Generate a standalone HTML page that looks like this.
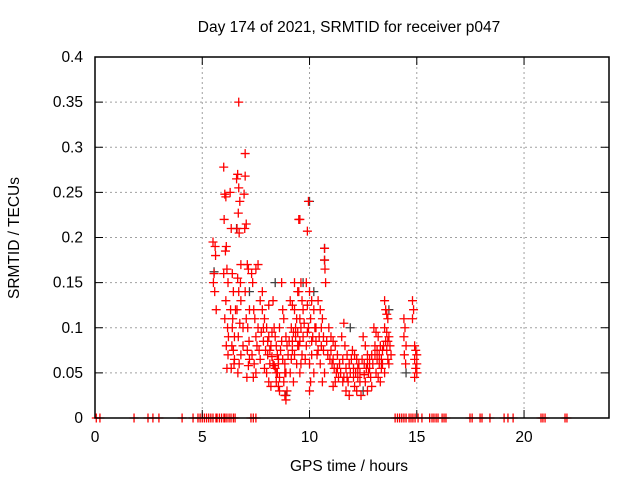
<!DOCTYPE html>
<html><head><meta charset="utf-8"><style>
body{margin:0;background:#fff}
svg{display:block;font-family:"Liberation Sans",sans-serif;font-size:15.5px}
</style></head><body>
<svg id="chart" width="640" height="480">
<rect width="640" height="480" fill="#fff"/>
<g id="grid"></g>
<g id="marks"></g>
<rect x="95" y="57" width="514" height="361" fill="none" stroke="#000" stroke-width="1.5"/>
<g id="ticks"></g>
<text x="349" y="32" text-anchor="middle">Day 174 of 2021, SRMTID for receiver p047</text>
<text x="349" y="471" text-anchor="middle">GPS time / hours</text>
<text transform="translate(19,238) rotate(-90)" text-anchor="middle">SRMTID / TECUs</text>
</svg>
<script>
const xTicks=[0,5,10,15,20];
const yTicks=[0,0.05,0.1,0.15,0.2,0.25,0.3,0.35,0.4];
const yTickLabels=["0","0.05","0.1","0.15","0.2","0.25","0.3","0.35","0.4"];
const points=[
[5.5,0.195],[5.55,0.16],[5.6,0.19],[5.52,0.15],[5.58,0.14],[5.62,0.18],[5.65,0.12],
[6.0,0.278],[6.05,0.248],[6.1,0.245],[6.02,0.22],[6.12,0.19],[6.08,0.185],[6.15,0.165],[6.0,0.16],[6.2,0.15],[6.1,0.13],[6.05,0.11],[6.18,0.1],[6.22,0.09],[6.12,0.08],[6.2,0.07],[6.15,0.055],
[6.3,0.25],[6.35,0.21],[6.4,0.16],[6.45,0.14],[6.32,0.12],[6.4,0.1],[6.5,0.09],[6.38,0.08],[6.45,0.075],[6.48,0.06],[6.35,0.055],[6.42,0.11],[6.5,0.065],
[6.7,0.35],[6.65,0.27],[6.6,0.265],[6.7,0.255],[6.75,0.24],[6.68,0.227],[6.62,0.21],[6.72,0.205],[6.8,0.17],[6.65,0.155],[6.78,0.15],[6.7,0.14],[6.8,0.13],[6.62,0.12],[6.75,0.105],[6.68,0.09],[6.8,0.07],[6.72,0.06],[6.66,0.05],
[7.0,0.293],[7.0,0.268],[6.95,0.248],[7.05,0.215],[6.98,0.21],[7.1,0.17],[7.15,0.165],[7.0,0.14],[7.2,0.12],[7.05,0.11],[7.12,0.1],[7.18,0.085],[7.1,0.075],[7.2,0.065],[7.15,0.058],[7.08,0.045],
[7.3,0.16],[7.35,0.15],[7.4,0.12],[7.45,0.11],[7.5,0.09],[7.55,0.08],[7.32,0.07],[7.42,0.06],[7.5,0.05],[7.38,0.045],[7.5,0.165],[7.6,0.17],
[7.7,0.13],[7.8,0.12],[7.9,0.11],[8.0,0.1],[7.75,0.095],[8.1,0.09],[7.85,0.085],[8.2,0.08],[7.95,0.075],[8.05,0.07],[7.7,0.065],[8.15,0.06],[7.9,0.055],[8.0,0.05],[8.1,0.04],[8.2,0.035],[7.8,0.14],[8.1,0.125],
[8.3,0.13],[8.35,0.1],[8.4,0.09],[8.45,0.08],[8.5,0.07],[8.55,0.065],[8.3,0.06],[8.4,0.055],[8.5,0.05],[8.6,0.045],[8.45,0.04],[8.55,0.035],[8.6,0.03],
[8.7,0.15],[8.75,0.12],[8.8,0.11],[8.9,0.09],[8.95,0.08],[9.0,0.07],[8.85,0.06],[8.9,0.05],[8.8,0.04],[8.95,0.03],[8.9,0.02],[8.85,0.025],
[9.1,0.13],[9.2,0.125],[9.3,0.12],[9.4,0.11],[9.15,0.1],[9.25,0.095],[9.35,0.09],[9.45,0.08],[9.2,0.075],[9.3,0.07],[9.4,0.06],[9.1,0.05],[9.25,0.04],[9.3,0.15],[9.45,0.14],
[9.5,0.22],[9.55,0.22],[9.6,0.15],[9.5,0.14],[9.65,0.13],[9.7,0.12],[9.55,0.11],[9.6,0.1],[9.7,0.09],[9.5,0.08],[9.65,0.07],[9.6,0.06],[9.55,0.05],
[9.95,0.24],[9.9,0.207],[9.85,0.15],[10.0,0.14],[10.1,0.13],[9.9,0.125],[10.2,0.12],[10.05,0.11],[9.95,0.1],[10.15,0.09],[9.85,0.08],[10.1,0.07],[10.0,0.06],[10.2,0.05],[10.05,0.04],[10.0,0.03],
[10.7,0.188],[10.7,0.175],[10.72,0.165],[10.75,0.15],[10.4,0.13],[10.5,0.12],[10.6,0.11],[10.3,0.1],[10.45,0.09],[10.55,0.08],[10.65,0.075],[10.35,0.07],[10.5,0.06],[10.7,0.05],[10.6,0.04],
[10.9,0.1],[11.0,0.09],[11.1,0.085],[11.2,0.08],[11.3,0.07],[10.95,0.065],[11.05,0.06],[11.15,0.055],[11.25,0.05],[11.35,0.045],[11.2,0.04],[11.1,0.035],
[11.6,0.105],[11.5,0.09],[11.65,0.08],[11.75,0.07],[11.55,0.065],[11.85,0.06],[11.7,0.055],[11.9,0.05],[11.6,0.045],[11.8,0.04],[11.7,0.03],[11.85,0.025],
[12.0,0.075],[12.1,0.07],[12.2,0.065],[12.3,0.06],[12.05,0.055],[12.15,0.05],[12.25,0.045],[12.35,0.04],[12.1,0.035],[12.2,0.03],[12.4,0.025],
[12.5,0.09],[12.6,0.08],[12.7,0.07],[12.8,0.065],[12.55,0.06],[12.65,0.055],[12.75,0.05],[12.85,0.045],[12.6,0.04],[12.9,0.035],[12.7,0.03],
[13.0,0.1],[13.1,0.095],[13.2,0.09],[13.3,0.08],[13.4,0.075],[13.05,0.07],[13.15,0.065],[13.25,0.06],[13.35,0.055],[13.1,0.05],[13.2,0.045],[13.3,0.04],
[13.5,0.13],[13.55,0.12],[13.6,0.115],[13.65,0.11],[13.5,0.1],[13.7,0.09],[13.55,0.085],[13.75,0.08],[13.6,0.075],[13.8,0.07],[13.65,0.065],[13.7,0.06],[13.5,0.05],
[14.4,0.11],[14.45,0.1],[14.4,0.09],[14.5,0.08],[14.42,0.07],[14.48,0.06],
[14.8,0.13],[14.85,0.12],[14.8,0.11],[14.9,0.08],[14.95,0.075],[15.0,0.07],[14.9,0.065],[15.0,0.06],[14.95,0.055],[15.0,0.05],[14.9,0.045]
];
const extraPoints=[
[8.05,0.085],[8.15,0.075],[8.25,0.068],[8.35,0.058],[8.45,0.05],[8.55,0.06],[8.65,0.075],[8.75,0.065],[8.85,0.05],[9.05,0.085],[9.15,0.065],[9.35,0.1],[9.45,0.095],[9.55,0.085],[9.75,0.105],[9.8,0.065],[10.25,0.1],[10.3,0.085],[10.4,0.075],[10.55,0.1],[10.65,0.09],[10.8,0.085],[10.85,0.07],[11.0,0.075],[11.1,0.065],[11.3,0.055],[11.4,0.06],[11.45,0.05],[11.55,0.04],[11.75,0.045],[11.95,0.065],[12.05,0.045],[12.25,0.055],[12.35,0.05],[12.45,0.065],[12.55,0.048],[12.7,0.06],[12.8,0.055],[12.95,0.06],[13.05,0.08],[13.15,0.075],[13.25,0.07],[13.35,0.065],[13.45,0.08],[13.6,0.095],[13.65,0.085],[13.4,0.06],[12.9,0.07],[7.6,0.1],[7.65,0.075],[7.85,0.1],[8.25,0.095],[6.9,0.1],[6.9,0.08],[6.55,0.12],[9.9,0.095],[10.1,0.085],[9.2,0.085],[8.6,0.1],[8.7,0.085]
];
const blackPoints=[[5.55,0.162],[6.6,0.21],[7.2,0.14],[8.9,0.025],[10.0,0.24],[10.7,0.188],[10.7,0.175],[9.7,0.15],[11.9,0.1],[12.5,0.03],[13.7,0.12],[14.5,0.05],[8.4,0.15],[10.2,0.14]];
const zeroHours=[0.06,0.23,1.82,2.47,2.7,2.98,4.06,4.57,4.8,4.9,5.0,5.1,5.2,5.3,5.4,5.5,5.64,5.69,5.8,5.9,6.01,6.06,6.15,6.25,6.34,6.45,6.53,7.27,7.38,7.5,13.99,14.1,14.2,14.3,14.4,14.5,14.64,14.73,14.82,14.92,15.06,15.24,15.6,15.71,15.8,15.9,15.99,16.18,16.27,16.36,17.48,17.58,17.95,18.04,18.41,19.07,19.25,19.49,20.79,20.88,20.98,21.91,22.0];

const X=h=>95+h*(514/23.96);
const Y=v=>418-v*(361/0.4);
const NS="http://www.w3.org/2000/svg";
const grid=document.getElementById('grid'),ticks=document.getElementById('ticks'),marks=document.getElementById('marks');
function mk(tag,attrs,parent){const e=document.createElementNS(NS,tag);for(const k in attrs)e.setAttribute(k,attrs[k]);parent.appendChild(e);return e;}
xTicks.forEach(t=>{
  const x=X(t);
  if(t>0){const g=mk('line',{x1:x,x2:x,y1:57,y2:418,stroke:'#a0a0a0','stroke-dasharray':'2,3'},grid);
  
  }
  mk('line',{x1:x,x2:x,y1:418,y2:410,stroke:'#000'},ticks);
  mk('line',{x1:x,x2:x,y1:57,y2:65,stroke:'#000'},ticks);
  const l=mk('text',{x:x,y:442,'text-anchor':'middle'},ticks);l.textContent=t;
  
  
});
yTicks.forEach((t,i)=>{
  const y=Y(t);
  if(t>0&&t<0.4){const g=mk('line',{x1:95,x2:609,y1:y,y2:y,stroke:'#a0a0a0','stroke-dasharray':'2,3'},grid);
  
  }
  mk('line',{x1:95,x2:103,y1:y,y2:y,stroke:'#000'},ticks);
  mk('line',{x1:601,x2:609,y1:y,y2:y,stroke:'#000'},ticks);
  const l=mk('text',{x:83,y:y+5,'text-anchor':'end'},ticks);l.textContent=yTickLabels[i];
  
  
});
function plus(h,v,col){const x=X(h),y=Y(v);
  const p=mk('path',{d:`M${x-4.5},${y}h9M${x},${y-4.5}v9`,stroke:col,'stroke-width':1.3},marks);
  
  }
blackPoints.forEach(p=>plus(p[0],p[1],'#404040'));
points.forEach(p=>plus(p[0],p[1],'#ff0000'));
extraPoints.forEach(p=>plus(p[0],p[1],'#ff0000'));
zeroHours.forEach(h=>plus(h,0,'#ff0000'));
</script>
</body></html>
